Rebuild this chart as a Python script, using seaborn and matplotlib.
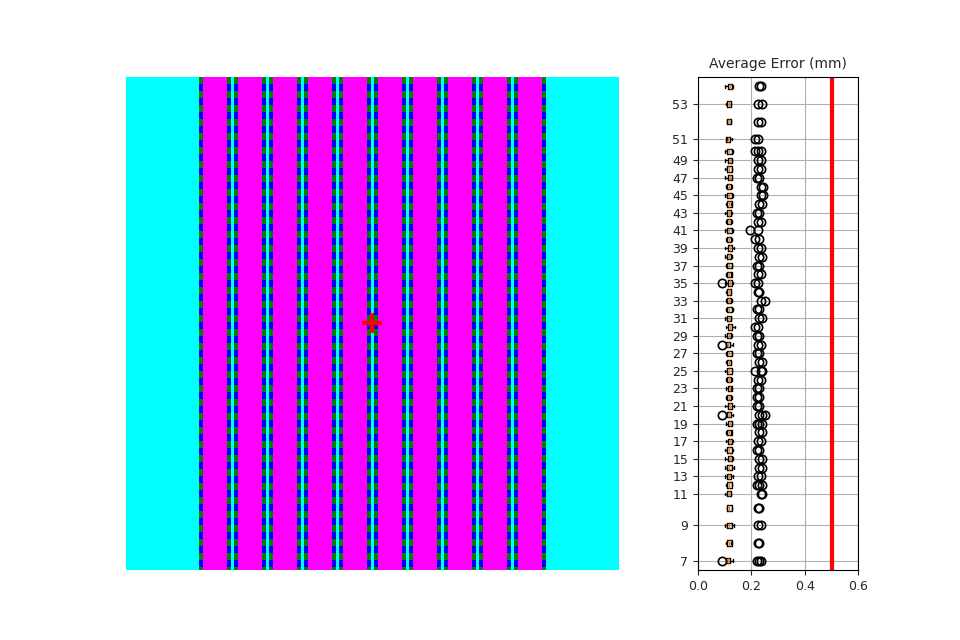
import numpy as np
import matplotlib
matplotlib.use("Agg")
import matplotlib.pyplot as plt
from matplotlib.colors import ListedColormap
import seaborn as sns

sns.set_style("white")

# step heights (labels of each box)
heights = [7, 8, 9, 10, 11, 12, 13, 14, 15, 16, 17, 18, 19, 20, 21, 22, 23, 24, 25, 26,
           27, 28, 29, 30, 31, 32, 33, 34, 35, 36, 37, 38, 39, 40, 41, 42, 43, 44, 45, 46,
           47, 48, 49, 50, 51, 52, 53, 54]
medians = [0.112, 0.118, 0.118, 0.118, 0.115, 0.118, 0.117, 0.118, 0.120, 0.118, 0.120, 0.118,
           0.120, 0.117, 0.120, 0.115, 0.120, 0.115, 0.118, 0.117, 0.118, 0.112, 0.117, 0.120,
           0.115, 0.118, 0.115, 0.115, 0.120, 0.118, 0.118, 0.115, 0.120, 0.115, 0.118, 0.117,
           0.117, 0.118, 0.118, 0.115, 0.120, 0.118, 0.120, 0.118, 0.113, 0.115, 0.117, 0.120]
q1 = [m - 0.008 for m in medians]
q3 = [m + 0.008 for m in medians]
whis_lo = [0.105, 0.105, 0.103, 0.110, 0.100, 0.105, 0.102, 0.103, 0.100, 0.103, 0.104, 0.106,
           0.104, 0.106, 0.103, 0.105, 0.106, 0.106, 0.102, 0.104, 0.104, 0.105, 0.103, 0.104,
           0.100, 0.104, 0.106, 0.104, 0.102, 0.104, 0.104, 0.103, 0.100, 0.105, 0.103, 0.104,
           0.102, 0.104, 0.100, 0.104, 0.103, 0.102, 0.100, 0.102, 0.108, 0.110, 0.105, 0.102]
whis_hi = [0.130, 0.125, 0.135, 0.127, 0.125, 0.128, 0.132, 0.135, 0.133, 0.130, 0.130, 0.125,
           0.127, 0.130, 0.135, 0.128, 0.125, 0.128, 0.127, 0.125, 0.128, 0.130, 0.126, 0.138,
           0.125, 0.130, 0.128, 0.125, 0.130, 0.125, 0.128, 0.127, 0.135, 0.128, 0.130, 0.127,
           0.128, 0.125, 0.130, 0.127, 0.128, 0.126, 0.128, 0.130, 0.126, 0.122, 0.123, 0.130]
fliers = [[0.090, 0.220, 0.230, 0.235], [0.225, 0.230], [0.225, 0.235], [0.225, 0.230],
          [0.235, 0.240], [0.220, 0.230, 0.240], [0.225, 0.235], [0.230, 0.240], [0.230, 0.240],
          [0.220, 0.230], [0.225, 0.235], [0.230, 0.240], [0.220, 0.230, 0.240],
          [0.090, 0.230, 0.240, 0.250], [0.220, 0.230], [0.220, 0.230], [0.220, 0.230],
          [0.225, 0.235], [0.215, 0.235, 0.240], [0.230, 0.240], [0.220, 0.230],
          [0.090, 0.225, 0.235], [0.220, 0.230], [0.215, 0.225], [0.230, 0.240],
          [0.220, 0.230], [0.235, 0.250], [0.225, 0.230], [0.090, 0.215, 0.225],
          [0.225, 0.235], [0.220, 0.230], [0.230, 0.240], [0.225, 0.235], [0.215, 0.230],
          [0.195, 0.225], [0.225, 0.235], [0.220, 0.230], [0.230, 0.240], [0.235, 0.245],
          [0.235, 0.245], [0.220, 0.230], [0.225, 0.235], [0.225, 0.235], [0.215, 0.225, 0.235],
          [0.215, 0.225], [0.225, 0.235], [0.225, 0.240], [0.230, 0.235]]

# y layout of the boxes on the right panel
positions = [0, 2, 4, 6] + [7.6 + k for k in range(40)] + [48, 50, 52, 54]

# stripe pattern of the left image (0 cyan, 1 magenta, 2/3 dashed edge)
n_cols = 141
n_rows = 141
col_kind = np.zeros(n_cols, dtype=int)
col_kind[22:119] = 1
edge_cols = [21, 119] + [c for k in range(29, 112, 10) for c in (k, k + 2)]
gap_cols = list(range(30, 111, 10))

img = np.zeros((n_rows, n_cols))
img[:, col_kind == 1] = 1
for c in gap_cols:
    img[:, c] = 0
for c in edge_cols:
    img[:, c] = [2 if (r // 2) % 2 == 0 else 3 for r in range(n_rows)]

fig = plt.figure(figsize=(9.6, 6.4), dpi=100)
ax_img = fig.add_axes([0.131, 0.109, 0.514, 0.771])
ax_box = fig.add_axes([0.727, 0.109, 0.167, 0.771])

cmap = ListedColormap(["#00ffff", "#ff00ff", "#008000", "#0000ff"])
sns.heatmap(img, ax=ax_img, cmap=cmap, vmin=-0.5, vmax=3.5, cbar=False,
            xticklabels=False, yticklabels=False)
ax_img.plot([70.3], [70.4], marker="+", color="red", markersize=14, mew=3)
ax_img.set_axis_off()

stats = []
for i in range(len(heights)):
    stats.append(dict(med=medians[i], q1=q1[i], q3=q3[i], whislo=whis_lo[i],
                      whishi=whis_hi[i], fliers=fliers[i]))
ax_box.bxp(stats, positions=positions, vert=False, widths=0.6, manage_ticks=False,
           flierprops=dict(marker="o", markerfacecolor="none", markeredgecolor="black",
                           markersize=6, markeredgewidth=1.2))
ax_box.axvline(0.5, color="red", lw=3)
tick_idx = [i for i, h in enumerate(heights) if h % 2 == 1]
ax_box.set_yticks([positions[i] for i in tick_idx])
ax_box.set_yticklabels([str(heights[i]) for i in tick_idx], fontsize=9)
ax_box.set_xlim(0, 0.6)
ax_box.set_xticks([0.0, 0.2, 0.4, 0.6])
ax_box.tick_params(axis="x", labelsize=9)
ax_box.tick_params(axis="both", length=3.5, left=True, bottom=True)
ax_box.set_ylim(-1.1, 55.1)
ax_box.grid(True, color="#b0b0b0", lw=0.8)
for s in ax_box.spines.values():
    s.set_color("black")
ax_box.set_title("Average Error (mm)", fontsize=10)

fig.savefig("out.png")
